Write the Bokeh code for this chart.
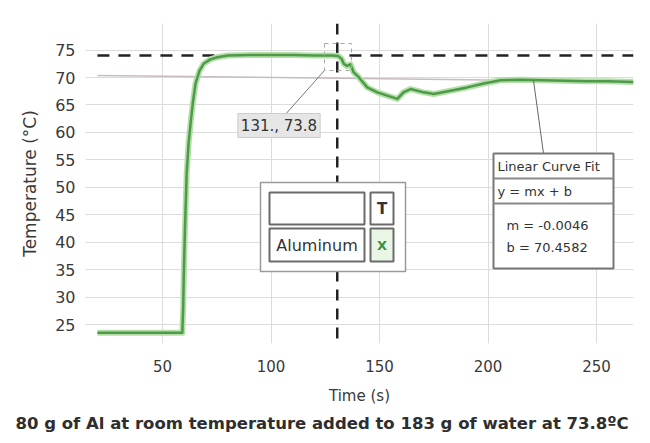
from bokeh.plotting import figure
from bokeh.models import Range1d, FixedTicker, Label, Title
from bokeh.core.properties import value
from bokeh.embed import file_html
from bokeh.resources import INLINE

# ---- data ----
time_s = [20, 30, 40, 50, 58, 59.1, 59.5, 59.8, 60.3, 61.1, 62.0, 62.9, 64.0, 65.2, 67.0,
          68.9, 72, 75.3, 80, 90, 100, 110, 120, 128, 131, 132.5, 133.5, 135, 136.6, 138,
          140.3, 144.3, 149, 153.5, 158.2, 161, 164.3, 170.3, 175, 182.7, 190.4, 198,
          205.8, 215, 225, 235, 245, 255, 267]
temp_c = [23.5, 23.5, 23.5, 23.5, 23.5, 23.5, 28.0, 34.3, 42.0, 52.5, 58.0, 61.6, 65.5, 68.9, 71.2,
          72.5, 73.3, 73.7, 74.0, 74.1, 74.1, 74.1, 74.0, 74.0, 73.9, 73.4, 72.5, 72.1, 72.4, 71.0,
          70.1, 68.2, 67.3, 66.7, 66.1, 67.3, 67.9, 67.3, 67.0, 67.6, 68.2, 68.9,
          69.5, 69.6, 69.5, 69.4, 69.3, 69.3, 69.2]

x_ticks = [50, 100, 150, 200, 250]
y_ticks = [25, 30, 35, 40, 45, 50, 55, 60, 65, 70, 75]

cursor_x = 130.5
cursor_y = 74.0
cursor_label = "131., 73.8"
fit_m = -0.0046
fit_b = 70.4582
fit_x = [20, 267]
series_name = "Aluminum"
caption = "80 g of Al at room temperature added to 183 g of water at 73.8ºC"

# ---- layout helpers (page pixel -> data) ----
X_MIN, X_MAX = 14.5, 267.0
Y_MIN, Y_MAX = 21.55, 79.84
def dx(px):
    return X_MIN + (px - 85) * (X_MAX - X_MIN) / 548.0
def dy(py):
    return Y_MAX - (py - 23) * (Y_MAX - Y_MIN) / 320.0

FONT = value("DejaVu Sans")

p = figure(width=650, height=443, output_backend="svg", toolbar_location=None,
           x_range=Range1d(X_MIN, X_MAX), y_range=Range1d(Y_MIN, Y_MAX),
           min_border_left=85, min_border_right=17, min_border_top=23, min_border_bottom=100)
p.outline_line_color = None
p.background_fill_color = "white"

for ax in (p.xaxis[0], p.yaxis[0]):
    ax.axis_line_color = None
    ax.major_tick_line_color = None
    ax.minor_tick_line_color = None
    ax.major_label_text_font = "DejaVu Sans"
    ax.major_label_text_color = "#3a3a3a"
    ax.axis_label_text_font = "DejaVu Sans"
    ax.axis_label_text_font_style = "normal"
    ax.axis_label_text_color = "#3a3a3a"

p.xaxis.ticker = FixedTicker(ticks=x_ticks)
p.yaxis.ticker = FixedTicker(ticks=y_ticks)
p.xaxis.major_label_text_font_size = "15px"
p.yaxis.major_label_text_font_size = "16px"
p.xaxis.major_label_standoff = 10
p.yaxis.major_label_standoff = 4
p.xaxis.axis_label = "Time (s)"
p.yaxis.axis_label = "Temperature (°C)"
p.xaxis.axis_label_text_font_size = "15px"
p.yaxis.axis_label_text_font_size = "17px"
p.xaxis.axis_label_standoff = 12
p.yaxis.axis_label_standoff = 12

p.xgrid.ticker = FixedTicker(ticks=x_ticks)
p.ygrid.ticker = FixedTicker(ticks=y_ticks)
p.grid.grid_line_color = "#dcdcdc"
p.grid.grid_line_width = 1

# linear fit line
p.line(fit_x, [fit_b + fit_m * x for x in fit_x], line_color="#c6bcc2", line_width=1.5)

# cursor dashed lines
p.segment(x0=[time_s[0]], y0=[cursor_y], x1=[X_MAX], y1=[cursor_y],
          line_color="#222222", line_width=2.5, line_dash="12 9")
p.segment(x0=[cursor_x], y0=[dy(338)], x1=[cursor_x], y1=[Y_MAX],
          line_color="#222222", line_width=2.5, line_dash="11 8")

# data curve
p.line(time_s, temp_c, line_color="#b4e0a8", line_width=6, line_join="round")
p.line(time_s, temp_c, line_color="#4e9a4a", line_width=2.5, line_join="round")

# cursor marker box and leader
p.quad(left=[dx(324)], right=[dx(351)], top=[dy(43)], bottom=[dy(70)],
       fill_color=None, line_color="#a8a8a8", line_width=1, line_dash="4 4")
p.segment(x0=[dx(324)], y0=[dy(70)], x1=[dx(283)], y1=[dy(116)],
          line_color="#777777", line_width=1)
p.add_layout(Label(x=dx(278.5), y=dy(125), text=cursor_label, text_font="DejaVu Sans",
                   text_font_size="15px", text_color="#333333", text_align="center",
                   text_baseline="middle", background_fill_color="#e6e6e6",
                   border_line_color="#cccccc", padding=3))

# legend-like box in the middle
p.quad(left=[dx(260)], right=[dx(405)], top=[dy(182)], bottom=[dy(271)],
       fill_color="white", line_color="#9a9a9a", line_width=1.5)
p.quad(left=[dx(269), dx(370), dx(269), dx(370)],
       right=[dx(364), dx(393), dx(364), dx(393)],
       top=[dy(192), dy(192), dy(228), dy(228)],
       bottom=[dy(224), dy(224), dy(261), dy(261)],
       fill_color=["white", "white", "white", "#e9f5e5"],
       line_color="#6a6a6a", line_width=2)
p.text(x=[dx(316.5)], y=[dy(245)], text=[series_name], text_font=FONT,
       text_font_size="16px", text_color="#333333", text_align="center",
       text_baseline="middle")
p.text(x=[dx(381.5)], y=[dy(208)], text=["T"], text_font=FONT, text_font_style="bold",
       text_font_size="15px", text_color="#333333", text_align="center",
       text_baseline="middle")
p.text(x=[dx(381.5)], y=[dy(245)], text=["Ⅹ"], text_font=FONT, text_font_style="bold",
       text_font_size="13px", text_color="#3d8f3d", text_align="center",
       text_baseline="middle")

# linear curve fit box
p.segment(x0=[dx(533)], y0=[dy(80)], x1=[dx(543)], y1=[dy(153)],
          line_color="#666666", line_width=1)
p.quad(left=[dx(493)], right=[dx(613)], top=[dy(153)], bottom=[dy(268)],
       fill_color="white", line_color="#777777", line_width=2)
p.segment(x0=[dx(493), dx(493)], y0=[dy(178), dy(203)], x1=[dx(613), dx(613)],
          y1=[dy(178), dy(203)], line_color="#888888", line_width=2)
p.text(x=[dx(497), dx(497), dx(506), dx(506)],
       y=[dy(166), dy(190.5), dy(225), dy(247)],
       text=["Linear Curve Fit", "y = mx + b", f"m = {fit_m}", f"b = {fit_b}"],
       text_font=FONT, text_font_size="13px", text_color="#333333",
       text_align="left", text_baseline="middle")

# caption
p.add_layout(Title(text=caption, align="left", offset=-70, text_font="DejaVu Sans",
                   text_font_size="16.5px", text_font_style="bold",
                   text_color="#2e2e2e", standoff=9), "below")

open("out.html", "w").write(file_html(p, INLINE))
